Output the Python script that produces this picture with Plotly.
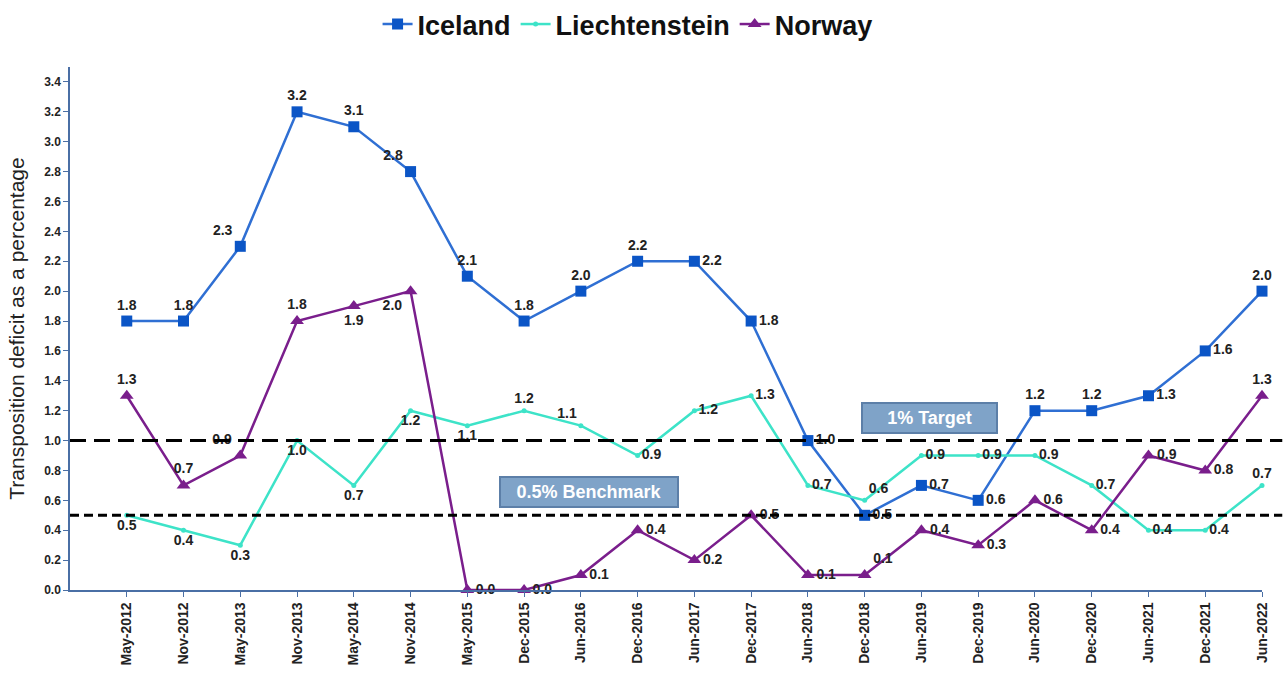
import plotly.graph_objects as go

periods = ["May-2012", "Nov-2012", "May-2013", "Nov-2013", "May-2014", "Nov-2014",
           "May-2015", "Dec-2015", "Jun-2016", "Dec-2016", "Jun-2017", "Dec-2017",
           "Jun-2018", "Dec-2018", "Jun-2019", "Dec-2019", "Jun-2020", "Dec-2020",
           "Jun-2021", "Dec-2021", "Jun-2022"]
iceland = [1.8, 1.8, 2.3, 3.2, 3.1, 2.8, 2.1, 1.8, 2.0, 2.2, 2.2, 1.8, 1.0, 0.5, 0.7, 0.6, 1.2, 1.2, 1.3, 1.6, 2.0]
liechtenstein = [0.5, 0.4, 0.3, 1.0, 0.7, 1.2, 1.1, 1.2, 1.1, 0.9, 1.2, 1.3, 0.7, 0.6, 0.9, 0.9, 0.9, 0.7, 0.4, 0.4, 0.7]
norway = [1.3, 0.7, 0.9, 1.8, 1.9, 2.0, 0.0, 0.0, 0.1, 0.4, 0.2, 0.5, 0.1, 0.1, 0.4, 0.3, 0.6, 0.4, 0.9, 0.8, 1.3]
target = 1.0
benchmark = 0.5
yticks = [round(0.2 * i, 1) for i in range(18)]

T, R, B, TL, BL, TR = "top center", "middle right", "bottom center", "top left", "bottom left", "top right"
pos_ice = [T, T, TL, T, T, TL, T, T, T, T, R, R, R, R, R, R, T, T, R, R, T]
pos_lie = [B, B, B, B, B, B, B, T, TL, R, R, R, R, TR, R, R, R, R, R, R, T]
pos_nor = [T, T, TL, T, B, BL, R, R, R, R, R, R, R, TR, R, R, R, R, R, R, T]

x = list(range(len(periods)))
lab_font = dict(family="Liberation Sans, Arial", size=14, color="#222222")

fig = go.Figure()
fig.add_trace(go.Scatter(
    x=x, y=iceland, name="<b>Iceland</b>", mode="lines+markers+text",
    line=dict(color="#2F6FD3", width=2.5),
    marker=dict(symbol="square", size=11, color="#0B55C6"),
    text=[f"<b>{v:.1f}</b>" for v in iceland], textposition=pos_ice, textfont=lab_font,
    cliponaxis=False,
))
fig.add_trace(go.Scatter(
    x=x, y=liechtenstein, name="<b>Liechtenstein</b>", mode="lines+markers+text",
    line=dict(color="#3DE3C8", width=2.5),
    marker=dict(symbol="circle", size=5, color="#3DE3C8"),
    text=[f"<b>{v:.1f}</b>" for v in liechtenstein], textposition=pos_lie, textfont=lab_font,
    cliponaxis=False,
))
fig.add_trace(go.Scatter(
    x=x, y=norway, name="<b>Norway</b>", mode="lines+markers+text",
    line=dict(color="#7A1E8C", width=2.5),
    marker=dict(symbol="triangle-up", size=12, color="#7A1E8C"),
    text=[f"<b>{v:.1f}</b>" for v in norway], textposition=pos_nor, textfont=lab_font,
    cliponaxis=False,
))

fig.add_shape(type="line", xref="paper", yref="y", x0=0, x1=1.017, y0=target, y1=target,
              line=dict(color="black", width=3, dash="16px,8px"))
fig.add_shape(type="line", xref="paper", yref="y", x0=0, x1=1.017, y0=benchmark, y1=benchmark,
              line=dict(color="black", width=3, dash="9px,5px"))

box = dict(bgcolor="#7FA3C8", bordercolor="#5C7FA8", borderwidth=2, showarrow=False,
           font=dict(family="Liberation Sans, Arial", size=18, color="white"))
fig.add_annotation(x=14.15, y=1.151, text="<b>1% Target</b>", width=131, height=26, **box)
fig.add_annotation(x=8.15, y=0.656, text="<b>0.5% Benchmark</b>", width=174, height=26, **box)

fig.update_layout(
    width=1286, height=673,
    margin=dict(l=70, r=24, t=67, b=83, autoexpand=False),
    paper_bgcolor="white", plot_bgcolor="white",
    font=dict(family="Liberation Sans, Arial", color="#222222"),
    showlegend=True,
    legend=dict(orientation="h", xref="container", yref="container", x=0.488, xanchor="center",
                y=1.0, yanchor="top", font=dict(size=27, color="#111111"),
                tracegroupgap=0),
    xaxis=dict(range=[-1, 20], tickmode="array", tickvals=x, automargin=False,
               ticktext=[f"<b>{p}</b>" for p in periods], tickangle=-90,
               tickfont=dict(size=14, color="#222222"),
               showgrid=False, zeroline=False, showline=True, linecolor="#4A6FA5", linewidth=1.5,
               ticks="outside", ticklen=5, tickcolor="#4A6FA5"),
    yaxis=dict(range=[0, 3.5], tickmode="array", tickvals=yticks, automargin=False,
               ticktext=[f"<b>{v:.1f}</b>" for v in yticks],
               tickfont=dict(size=12, color="#222222"),
               showgrid=False, zeroline=False, showline=True, linecolor="#4A6FA5", linewidth=1.5,
               ticks="outside", ticklen=5, tickcolor="#4A6FA5",
               title=dict(text="Transposition deficit as a percentage", standoff=14,
                          font=dict(size=21, color="#222222"))),
)

fig.write_html("out.html", config={"displayModeBar": False},
               post_script="document.body.style.margin='0';document.body.style.overflow='hidden';")
